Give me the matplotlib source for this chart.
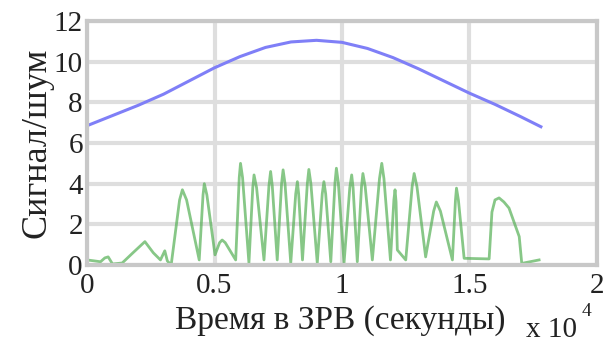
import matplotlib.pyplot as plt
from matplotlib.ticker import FuncFormatter

# time in seconds, signal-to-noise ratio
t_blue = [0, 1000, 2000, 3000, 4000, 5000, 6000, 7000, 8000, 9000,
          10000, 11000, 12000, 13000, 14000, 15000, 16000, 17000, 17800]
snr_blue = [6.85, 7.35, 7.85, 8.4, 9.05, 9.7, 10.25, 10.7, 10.97, 11.05,
            10.95, 10.65, 10.2, 9.65, 9.05, 8.45, 7.9, 7.3, 6.8]

t_green = [0, 300, 530, 700, 830, 1000, 1380, 1800, 2270, 2600, 2880, 3050,
           3150, 3300,
           3630, 3740, 3905, 4400,
           4550, 4600, 4700, 5020,
           5200, 5300, 5420, 5830,
           5970, 6020, 6100, 6350,
           6500, 6550, 6650, 6940,
           7135, 7200, 7265, 7460,
           7630, 7690, 7765, 7990,
           8185, 8250, 8300, 8450,
           8640, 8700, 8780, 9030,
           9225, 9290, 9360, 9560,
           9725, 9780, 9855, 10080,
           10305, 10380, 10435, 10600,
           10765, 10820, 10910, 11190,
           11470, 11560, 11645, 11900,
           12035, 12080, 12120, 12170, 12500,
           12750, 12830, 12940, 13280,
           13595, 13700, 13860, 14330,
           14450, 14490, 14565, 14790,
           15770, 15880, 16000, 16160, 16350, 16550, 16950, 17050, 17730]
snr_green = [0.25, 0.2, 0.16, 0.35, 0.4, 0.05, 0.1, 0.6, 1.15, 0.6, 0.25, 0.7,
             0.2, 0.0,
             3.2, 3.7, 3.2, 0.25,
             3.45, 4.0, 3.45, 0.5,
             1.1, 1.23, 1.1, 0.25,
             4.3, 5.0, 4.3, 0.1,
             3.8, 4.43, 3.8, 0.25,
             3.9, 4.6, 3.9, 0.25,
             4.0, 4.68, 4.0, 0.1,
             3.5, 4.1, 3.5, 0.25,
             4.0, 4.7, 4.0, 0.1,
             3.5, 4.1, 3.5, 0.16,
             4.05, 4.76, 4.05, 0.1,
             3.8, 4.43, 3.8, 0.16,
             3.85, 4.5, 3.85, 0.25,
             4.25, 5.0, 4.25, 0.25,
             3.2, 3.7, 3.1, 0.74, 0.25,
             3.85, 4.5, 3.85, 0.4,
             2.65, 3.1, 2.65, 0.25,
             3.2, 3.78, 3.2, 0.33,
             0.3, 2.6, 3.2, 3.3, 3.1, 2.8, 1.4, 0.08, 0.25]

x_ticks = [0, 5000, 10000, 15000, 20000]
y_ticks = [0, 2, 4, 6, 8, 10, 12]

plt.rcParams["font.family"] = ["Liberation Serif", "DejaVu Serif"]

fig = plt.figure(figsize=(6.15, 3.42), dpi=100)
ax = fig.add_axes([0.1415, 0.2251, 0.8292, 0.7135])

ax.plot(t_blue, snr_blue, color="#7f7ff7", lw=2.2)
ax.plot(t_green, snr_green, color="#55b055", lw=2.0, alpha=0.7)

ax.set_xlim(0, 20000)
ax.set_ylim(0, 12)
ax.set_xticks(x_ticks)
ax.set_yticks(y_ticks)
ax.xaxis.set_major_formatter(FuncFormatter(lambda v, p: "%g" % (v / 1e4)))
ax.grid(True, color="#dedede", lw=3)
ax.set_axisbelow(True)
for s in ax.spines.values():
    s.set_color("#c8c8c8")
    s.set_linewidth(3)
ax.tick_params(length=0, labelsize=21, pad=3, colors="#222222")
ax.tick_params(axis="x", pad=6)

ax.set_ylabel("Сигнал/шум", fontsize=26, labelpad=0, color="#222222")
fig.text(0.553, 0.062, "Время в ЗРВ (секунды)", fontsize=24, ha="center",
         va="center", color="#222222")
fig.text(0.856, 0.036, "x 10", fontsize=21, ha="left", va="center",
         color="#222222")
fig.text(0.946, 0.088, "4", fontsize=14, ha="left", va="center",
         color="#222222")

fig.savefig("out.png", dpi=100)
